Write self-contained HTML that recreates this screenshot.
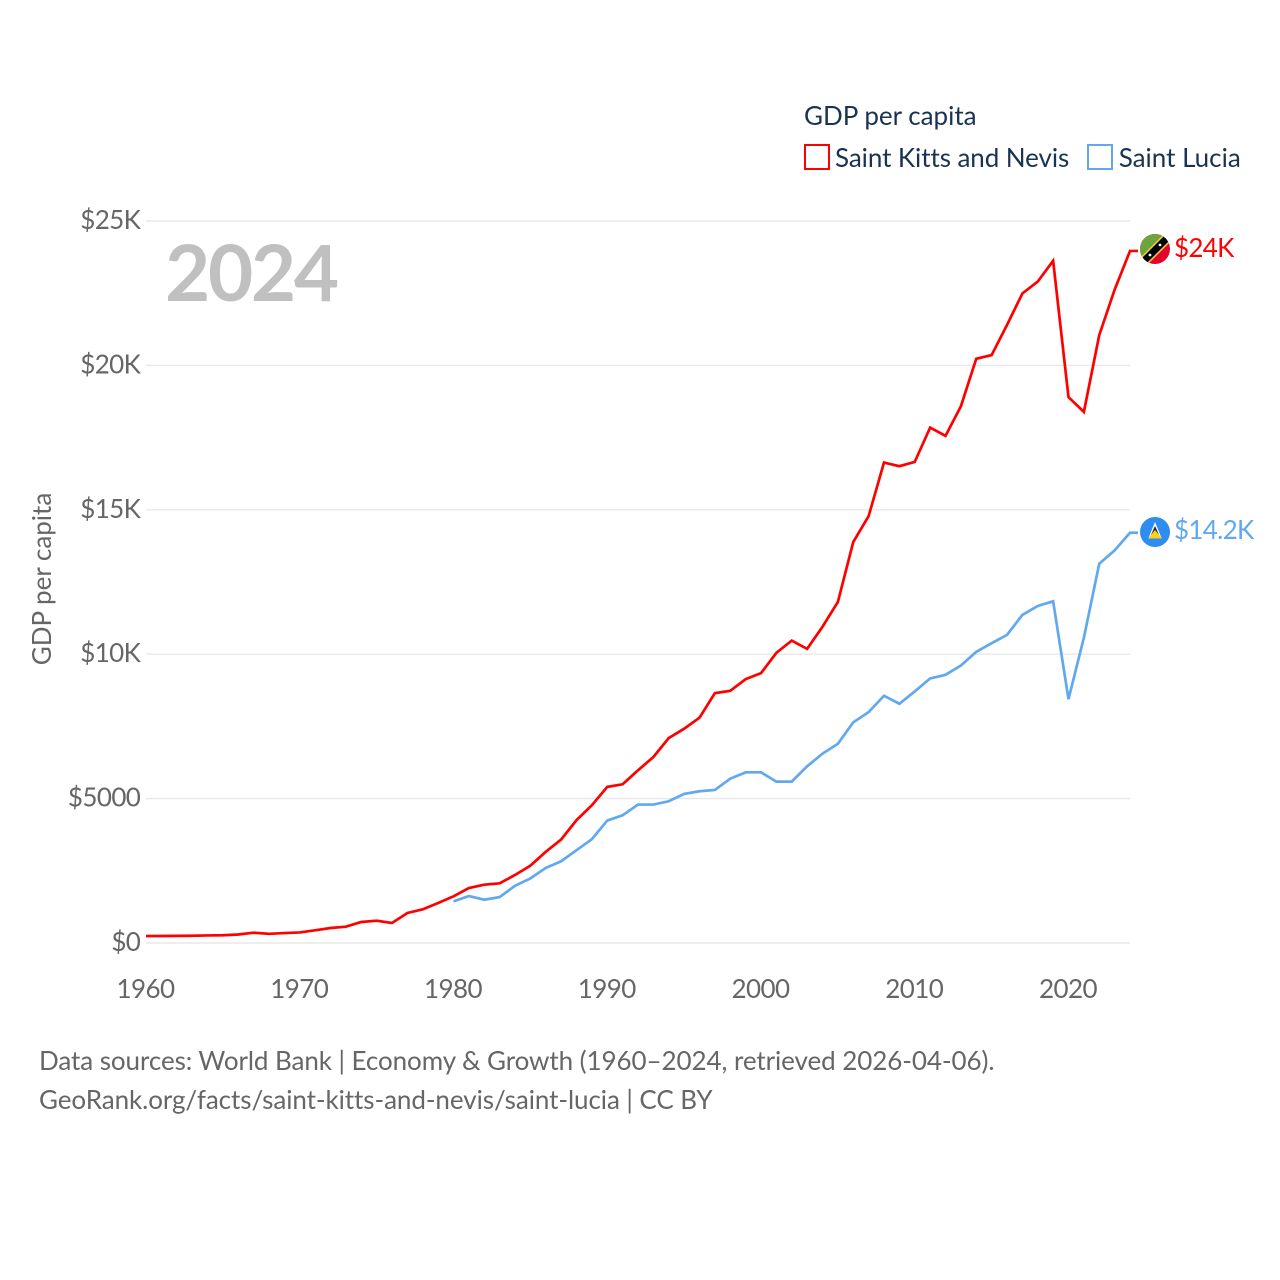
<!DOCTYPE html>
<html>
<head>
<meta charset="utf-8">
<style>
html,body{margin:0;padding:0;background:#fff;width:1280px;height:1280px;overflow:hidden}
svg{display:block}
text{font-family:"Lato","Carlito","Liberation Sans",sans-serif}
</style>
</head>
<body>
<svg id="chart" xmlns="http://www.w3.org/2000/svg" width="1280" height="1280" viewBox="0 0 1280 1280">
  <defs>
    <clipPath id="flag-clip-a"><circle cx="1155" cy="249" r="15"/></clipPath>
    <clipPath id="flag-clip-b"><circle cx="1155" cy="532" r="15"/></clipPath>
  </defs>
  <g id="grid"></g>
  <g id="yticks"></g>
  <g id="xticks"></g>
  <text transform="translate(51,579) rotate(-90)" text-anchor="middle" font-size="26" fill="#666">GDP per capita</text>
  <text x="165" y="301" font-size="78" font-weight="700" letter-spacing="-2.3" fill="#c0c0c0">2024</text>
  <g id="lines"></g>

  <g>
    <text x="804" y="125" font-size="26" fill="#1a3353">GDP per capita</text>
    <g>
      <rect x="805" y="145" width="24" height="24" fill="#fff" stroke="#ff0000" stroke-width="2"/>
      <text x="835" y="167" font-size="26" letter-spacing="-0.08" fill="#1a3353">Saint Kitts and Nevis</text>
    </g>
    <g>
      <rect x="1088" y="145" width="24" height="24" fill="#fff" stroke="#62a8ef" stroke-width="2"/>
      <text x="1118.7" y="167" font-size="26" fill="#1a3353">Saint Lucia</text>
    </g>
  </g>

  <g clip-path="url(#flag-clip-a)">
    <rect x="1140" y="234" width="30" height="30" fill="#e2062c"/>
    <polygon points="1138,234 1172,234 1138,268" fill="#6fa33e"/>
    <line x1="1138" y1="267" x2="1172" y2="233" stroke="#f5d130" stroke-width="10"/>
    <line x1="1138" y1="267" x2="1172" y2="233" stroke="#000" stroke-width="7"/>
    <circle cx="1150" cy="255" r="1.4" fill="#fff"/>
    <circle cx="1160" cy="245" r="1.4" fill="#fff"/>
  </g>
  <g clip-path="url(#flag-clip-b)">
    <rect x="1140" y="517" width="30" height="30" fill="#2e8df0"/>
    <polygon points="1155,522 1161.5,538 1148.5,538" fill="#fff"/>
    <polygon points="1155,526 1159.5,536 1150.5,536" fill="#222"/>
    <polygon points="1155,530 1162,538.5 1148,538.5" fill="#fcd116"/>
  </g>
  <text x="1174" y="257" font-size="26" letter-spacing="-0.7" fill="#ff0000">$24K</text>
  <text x="1174" y="539" font-size="26" letter-spacing="-0.7" fill="#62a8ef">$14.2K</text>

  <g>
    <text x="39" y="1070" font-size="26" letter-spacing="-0.075" fill="#666">Data sources: World Bank | Economy &amp; Growth (1960–2024, retrieved 2026-04-06).</text>
    <text x="39" y="1109" font-size="26" letter-spacing="-0.07" fill="#666">GeoRank.org/facts/saint-kitts-and-nevis/saint-lucia | CC BY</text>
  </g>
</svg>
<script>
const startYear = 1960;
const kittsValues = [240,242,246,252,262,268,295,357,318,345,365,440,520,565,727,773,692,1039,1166,1385,1616,1904,2020,2066,2355,2678,3157,3583,4252,4770,5404,5496,5980,6440,7097,7420,7800,8652,8733,9136,9343,10046,10472,10184,10950,11809,13883,14781,16636,16509,16659,17846,17560,18583,20230,20357,21400,22490,22903,23620,18900,18390,21050,22620,23963];
const luciaStartYear = 1980;
const luciaValues = [1440,1625,1498,1590,1982,2236,2600,2830,3214,3595,4240,4424,4793,4793,4908,5162,5254,5300,5691,5910,5910,5588,5588,6118,6556,6900,7640,7996,8561,8284,8710,9160,9286,9609,10081,10381,10669,11360,11671,11832,8445,10570,13134,13595,14205];
const yTickValues = [0,5000,10000,15000,20000,25000];
const yTickLabels = ['$0','$5000','$10K','$15K','$20K','$25K'];
const xTickYears = [1960,1970,1980,1990,2000,2010,2020];

const NS = 'http://www.w3.org/2000/svg';
const x0 = 146, x1 = 1130, yearMin = 1960, yearMax = 2024;
const y0 = 943, y1 = 221, valMax = 25000;
function xScale(year){ return x0 + (year - yearMin) * (x1 - x0) / (yearMax - yearMin); }
function yScale(v){ return y0 - v * (y0 - y1) / valMax; }

const grid = document.getElementById('grid');
const yticks = document.getElementById('yticks');
const xticks = document.getElementById('xticks');
const lines = document.getElementById('lines');

yTickValues.forEach(function(v, i){
  const l = document.createElementNS(NS, 'line');
  
  
  l.setAttribute('x1', x0);
  l.setAttribute('x2', x1);
  l.setAttribute('y1', yScale(v));
  l.setAttribute('y2', yScale(v));
  l.setAttribute('stroke', '#e8e8e8');
  l.setAttribute('stroke-width', '1.4');
  grid.appendChild(l);
  const t = document.createElementNS(NS, 'text');
  
  
  t.setAttribute('x', 140.3);
  t.setAttribute('y', yScale(v) + 8);
  t.setAttribute('text-anchor', 'end');
  t.setAttribute('font-size', '26');
  t.setAttribute('letter-spacing', '-0.6');
  t.setAttribute('fill', '#666');
  t.textContent = yTickLabels[i];
  yticks.appendChild(t);
});

xTickYears.forEach(function(yr){
  const t = document.createElementNS(NS, 'text');
  
  
  t.setAttribute('x', xScale(yr) - 0.5);
  t.setAttribute('y', 998);
  t.setAttribute('text-anchor', 'middle');
  t.setAttribute('font-size', '26');
  t.setAttribute('letter-spacing', '-0.6');
  t.setAttribute('fill', '#666');
  t.textContent = String(yr);
  xticks.appendChild(t);
});

function linePoints(values, first){
  const pts = values.map(function(v, i){
    return xScale(first + i).toFixed(2) + ',' + yScale(v).toFixed(2);
  });
  pts.push((x1 + 8) + ',' + yScale(values[values.length - 1]).toFixed(2));
  return pts.join(' ');
}

const luciaLine = document.createElementNS(NS, 'polyline');


luciaLine.setAttribute('points', linePoints(luciaValues, luciaStartYear));
luciaLine.setAttribute('fill', 'none');
luciaLine.setAttribute('stroke', '#62a8ef');
luciaLine.setAttribute('stroke-width', '2.7');
lines.appendChild(luciaLine);

const kittsLine = document.createElementNS(NS, 'polyline');


kittsLine.setAttribute('points', linePoints(kittsValues, startYear));
kittsLine.setAttribute('fill', 'none');
kittsLine.setAttribute('stroke', '#ff0000');
kittsLine.setAttribute('stroke-width', '2.7');
lines.appendChild(kittsLine);
</script>
</body>
</html>
